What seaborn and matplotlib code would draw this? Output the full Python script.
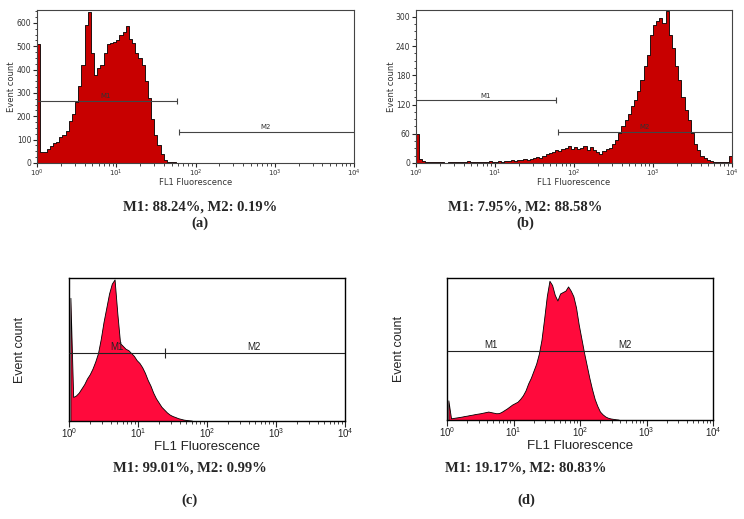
import numpy as np
import matplotlib
matplotlib.use('Agg')
import matplotlib.pyplot as plt
import seaborn as sns
from matplotlib.ticker import LogLocator, MultipleLocator, NullFormatter, LogFormatterMathtext

sns.set_style('white')

# histogram counts per channel, channel width = 0.04 decade starting at 10^0
CH = 0.04

counts_a = [510, 48, 45, 60, 72, 86, 92, 112, 120, 138,
            178, 210, 262, 330, 420, 590, 648, 470, 375, 405,
            418, 470, 508, 512, 520, 528, 548, 560, 585, 530,
            515, 470, 448, 420, 350, 280, 190, 118, 75, 40,
            14, 6, 4, 3, 2, 1, 1, 0, 0, 0]

counts_b = [60, 8, 4, 3, 2, 3, 2, 2, 3, 1,
            2, 3, 2, 2, 3, 2, 4, 2, 3, 2,
            3, 2, 3, 4, 3, 3, 4, 3, 5, 4,
            6, 5, 7, 6, 8, 7, 9, 10, 12, 11,
            15, 18, 20, 22, 26, 24, 28, 30, 34, 29,
            33, 28, 30, 34, 27, 33, 26, 22, 19, 24,
            28, 31, 38, 48, 62, 76, 88, 100, 118, 130,
            148, 170, 200, 222, 262, 284, 292, 298, 288, 312,
            262, 236, 200, 170, 136, 108, 88, 62, 40, 26,
            14, 10, 6, 4, 3, 2, 3, 2, 3, 14]

counts_c = [87, 17, 18, 20, 23, 26, 30, 33, 37, 42,
            48, 58, 70, 80, 90, 97, 100, 76, 55, 53,
            51, 50, 48, 46, 43, 41, 38, 34, 29, 25,
            20, 16, 13, 10, 8, 6, 4.5, 3.5, 2.8, 2,
            1.5, 1, 0.7, 0.5, 0.3]

counts_d = [14, 1.2, 1.5, 1.8, 2.1, 2.4, 2.8, 3.1, 3.5, 3.8,
            4.2, 4.5, 4.8, 5.2, 5.6, 6, 5.6, 5.2, 4.8, 4.9,
            5.8, 7, 8.2, 9.6, 11, 12, 13, 15, 17.5, 21,
            26, 30, 35, 40, 47, 57, 72, 88, 99, 96,
            89, 85, 90, 91, 92, 95, 92, 88, 80, 68,
            58, 48, 39, 30, 22, 15, 10, 6, 4, 2.5,
            1.6, 1.1, 0.8, 0.5, 0.3]

# gates: (start, end, level)
m1_a, m2_a = (1, 58, 267), (62, 10000, 134)
m1_b, m2_b = (1, 60, 129), (62, 10000, 64)
m1_c, m2_c = (1, 25, 48), (25, 10000, 48)
m1_d, m2_d = (1, 20, 49), (20, 10000, 49)
label_x = {'a': (7.4, 770), 'b': (7.7, 776), 'c': (4.9, 480), 'd': (4.5, 480)}

captions = ['M1: 88.24%, M2: 0.19%', 'M1: 7.95%, M2: 88.58%',
            'M1: 99.01%, M2: 0.99%', 'M1: 19.17%, M2: 80.83%']
letters = ['(a)', '(b)', '(c)', '(d)']

W, H = 744, 519
fig = plt.figure(figsize=(W / 100, H / 100), dpi=100)


def px_axes(l, t, r, b):
    return fig.add_axes([l / W, 1 - b / H, (r - l) / W, (b - t) / H])


def draw_hist(ax, counts, color, element):
    n = len(counts)
    centers = 10 ** (np.arange(n) * CH + CH / 2)
    sns.histplot(x=centers, weights=counts, bins=n, binrange=(0, n * CH),
                 log_scale=True, element=element, fill=True, color=color,
                 edgecolor='black', linewidth=0.6, alpha=1, ax=ax)


def gate(ax, g, tick_l, tick_r, size, lc):
    x0, x1, y = g
    ax.plot([x0, x1], [y, y], color=lc, lw=0.8, zorder=5)
    if tick_l:
        ax.plot([x0], [y], marker='|', ms=size, color=lc, mew=0.8, zorder=5)
    if tick_r:
        ax.plot([x1], [y], marker='|', ms=size, color=lc, mew=0.8, zorder=5)


def style_log_x(ax, lsize, lcolor, family, maj, mnr, pad):
    ax.set_xlim(1, 10000)
    ax.xaxis.set_major_locator(LogLocator(base=10, numticks=10))
    ax.xaxis.set_minor_locator(LogLocator(base=10, subs=np.arange(2, 10), numticks=10))
    ax.xaxis.set_major_formatter(LogFormatterMathtext())
    ax.xaxis.set_minor_formatter(NullFormatter())
    ax.tick_params(axis='x', which='major', direction='out', length=maj, width=0.8,
                   labelsize=lsize, labelcolor=lcolor, pad=pad, bottom=True)
    ax.tick_params(axis='x', which='minor', direction='out', length=mnr, width=0.6, bottom=True)
    for t in ax.get_xticklabels():
        t.set_family(family)


# ---- top row: (a), (b) ----
top_specs = [
    ('a', (37, 10, 354, 163), counts_a, m1_a, m2_a, 655, 100, -0.066),
    ('b', (416, 10, 732, 163), counts_b, m1_b, m2_b, 314, 60, -0.063),
]
for key, box, counts, m1, m2, ymax, ystep, ylx in top_specs:
    ax = px_axes(*box)
    draw_hist(ax, counts, '#c80000', 'step')
    ax.set_ylim(0, ymax)
    style_log_x(ax, 5, '#333333', 'DejaVu Sans', 3, 1.8, 0.5)
    ax.yaxis.set_major_locator(MultipleLocator(ystep))
    ax.yaxis.set_minor_locator(MultipleLocator(ystep / 4))
    ax.tick_params(axis='y', which='major', direction='out', length=3, width=0.8,
                   labelsize=5.5, labelcolor='#333333', pad=1, left=True)
    ax.tick_params(axis='y', which='minor', direction='out', length=1.5, width=0.6, left=True)
    for s in ax.spines.values():
        s.set_color('#444444')
        s.set_linewidth(0.8)
    gate(ax, m1, False, True, 4, '#444444')
    gate(ax, m2, True, False, 4, '#444444')
    lx1, lx2 = label_x[key]
    ax.text(lx1, m1[2] + ymax * 0.01, 'M1', fontsize=5, ha='center', va='bottom', color='#333333')
    ax.text(lx2, m2[2] + ymax * 0.01, 'M2', fontsize=5, ha='center', va='bottom', color='#333333')
    ax.set_xlabel('FL1 Fluorescence', fontsize=6, color='#333333')
    ax.set_ylabel('Event count', fontsize=6, color='#333333')
    ax.xaxis.set_label_coords(0.5, -0.1)
    ax.yaxis.set_label_coords(ylx, 0.5)

# ---- bottom row: (c), (d) ----
bot_specs = [
    ('c', (69, 278, 345, 421), counts_c, m1_c, m2_c, True, -0.155),
    ('d', (447, 278, 713, 420), counts_d, m1_d, m2_d, False, -0.158),
]
for key, box, counts, m1, m2, mid_tick, ylx in bot_specs:
    ax = px_axes(*box)
    draw_hist(ax, counts, '#ff0a3c', 'poly')
    ax.set_ylim(0, 101)
    style_log_x(ax, 7, '#222222', 'Liberation Sans', 4, 2.5, 0)
    ax.set_yticks([])
    for s in ax.spines.values():
        s.set_color('black')
        s.set_linewidth(1.0)
    if mid_tick:
        gate(ax, m1, False, True, 7, '#222222')
    else:
        gate(ax, m1, False, False, 7, '#222222')
        ax.vlines(m1[0], 0, m1[2], color='black', lw=1.2, zorder=5)
    gate(ax, m2, False, False, 7, '#222222')
    lx1, lx2 = label_x[key]
    ax.text(lx1, m1[2] + 1, 'M1', fontsize=7, ha='center', va='bottom', family='Liberation Sans', color='#222222')
    ax.text(lx2, m2[2] + 1, 'M2', fontsize=7, ha='center', va='bottom', family='Liberation Sans', color='#222222')
    ax.set_xlabel('FL1 Fluorescence', fontsize=9.5, family='Liberation Sans', color='#222222')
    ax.set_ylabel('Event count', fontsize=9, family='Liberation Sans', color='#222222')
    ax.xaxis.set_label_coords(0.5, -0.14)
    ax.yaxis.set_label_coords(ylx, 0.5)

# ---- captions ----
cap_pos = [(200, 207, 223), (525, 207, 223), (190, 468, 500), (526, 468, 500)]
for cap, let, (cx, y1, y2) in zip(captions, letters, cap_pos):
    fig.text(cx / W, 1 - y1 / H, cap, fontsize=10.5, fontweight='bold',
             family='Liberation Serif', ha='center', va='center')
    fig.text(cx / W, 1 - y2 / H, let, fontsize=10.5, fontweight='bold',
             family='Liberation Serif', ha='center', va='center')

fig.savefig('out.png', dpi=100)
